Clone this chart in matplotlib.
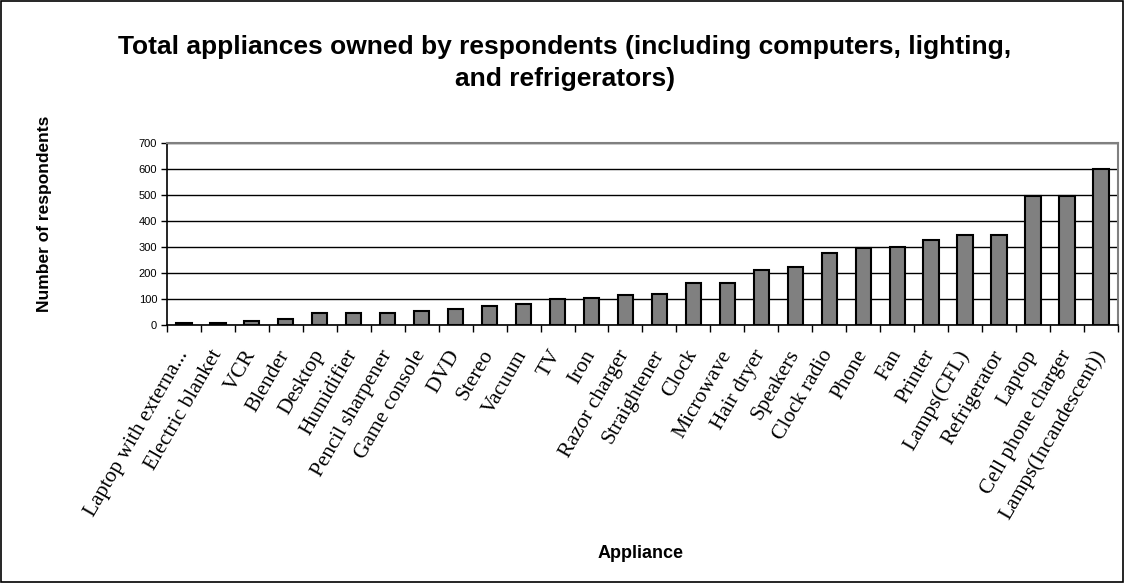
import matplotlib
matplotlib.use('Agg')
import matplotlib.pyplot as plt
from matplotlib.patches import Rectangle
import numpy as np

appliances = ['Laptop with externa...', 'Electric blanket', 'VCR', 'Blender', 'Desktop',
              'Humidifier', 'Pencil sharpener', 'Game console', 'DVD', 'Stereo', 'Vacuum',
              'TV', 'Iron', 'Razor charger', 'Straightener', 'Clock', 'Microwave',
              'Hair dryer', 'Speakers', 'Clock radio', 'Phone', 'Fan', 'Printer',
              'Lamps(CFL)', 'Refrigerator', 'Laptop', 'Cell phone charger',
              'Lamps(Incandescent))']
counts = [8, 7, 17, 24, 45, 45, 47, 55, 62, 74, 82, 101, 104, 114, 119, 160, 160,
          212, 224, 278, 296, 299, 326, 347, 347, 495, 496, 600]
yticks = [0, 100, 200, 300, 400, 500, 600, 700]

plt.rcParams['font.family'] = ['Liberation Sans', 'DejaVu Sans']

fig = plt.figure(figsize=(11.25, 5.83), dpi=100)
ax = fig.add_axes([0.1484, 0.4425, 0.8453, 0.3122])

x = np.arange(len(appliances))
ax.bar(x, counts, width=0.45, color='#808080', edgecolor='black', linewidth=1.5, zorder=3)

ax.set_xlim(-0.5, len(appliances) - 0.5)
ax.set_ylim(0, 700)
ax.set_yticks(yticks)
ax.set_yticklabels([str(v) for v in yticks], fontsize=8)
ax.yaxis.grid(True, color='black', linewidth=1, zorder=0)

# ticks sit between the categories, labels sit under each bar
ax.set_xticks(np.arange(len(appliances) + 1) - 0.5)
ax.set_xticklabels([])
ax.set_xticks(x, minor=True)
ax.set_xticklabels(appliances, minor=True, rotation=60, ha='right', va='center',
                   rotation_mode='anchor', fontsize=15.5, family='Liberation Serif')
ax.tick_params(axis='x', which='minor', length=0, pad=19)
ax.tick_params(axis='x', which='major', direction='out', length=5, width=1)
ax.tick_params(axis='y', direction='out', length=4, width=1, pad=3)

for side in ['top', 'right']:
    ax.spines[side].set_color('#808080')
    ax.spines[side].set_linewidth(1.5)
for side in ['left', 'bottom']:
    ax.spines[side].set_color('black')
    ax.spines[side].set_linewidth(1.2)

fig.text(0.502, 0.892, 'Total appliances owned by respondents (including computers, lighting,\nand refrigerators)',
         ha='center', va='center', fontsize=19, fontweight='bold', linespacing=1.45)
fig.text(0.04, 0.634, 'Number of respondents', rotation=90, ha='center', va='center',
         fontsize=12.5, fontweight='bold')
fig.text(0.569, 0.051, 'Appliance', ha='center', va='center', fontsize=13, fontweight='bold')

fig.patches.append(Rectangle((0.0005, 0.001), 0.998, 0.997, transform=fig.transFigure,
                             fill=False, edgecolor='black', linewidth=1.2))

plt.savefig('out.png', dpi=100)
